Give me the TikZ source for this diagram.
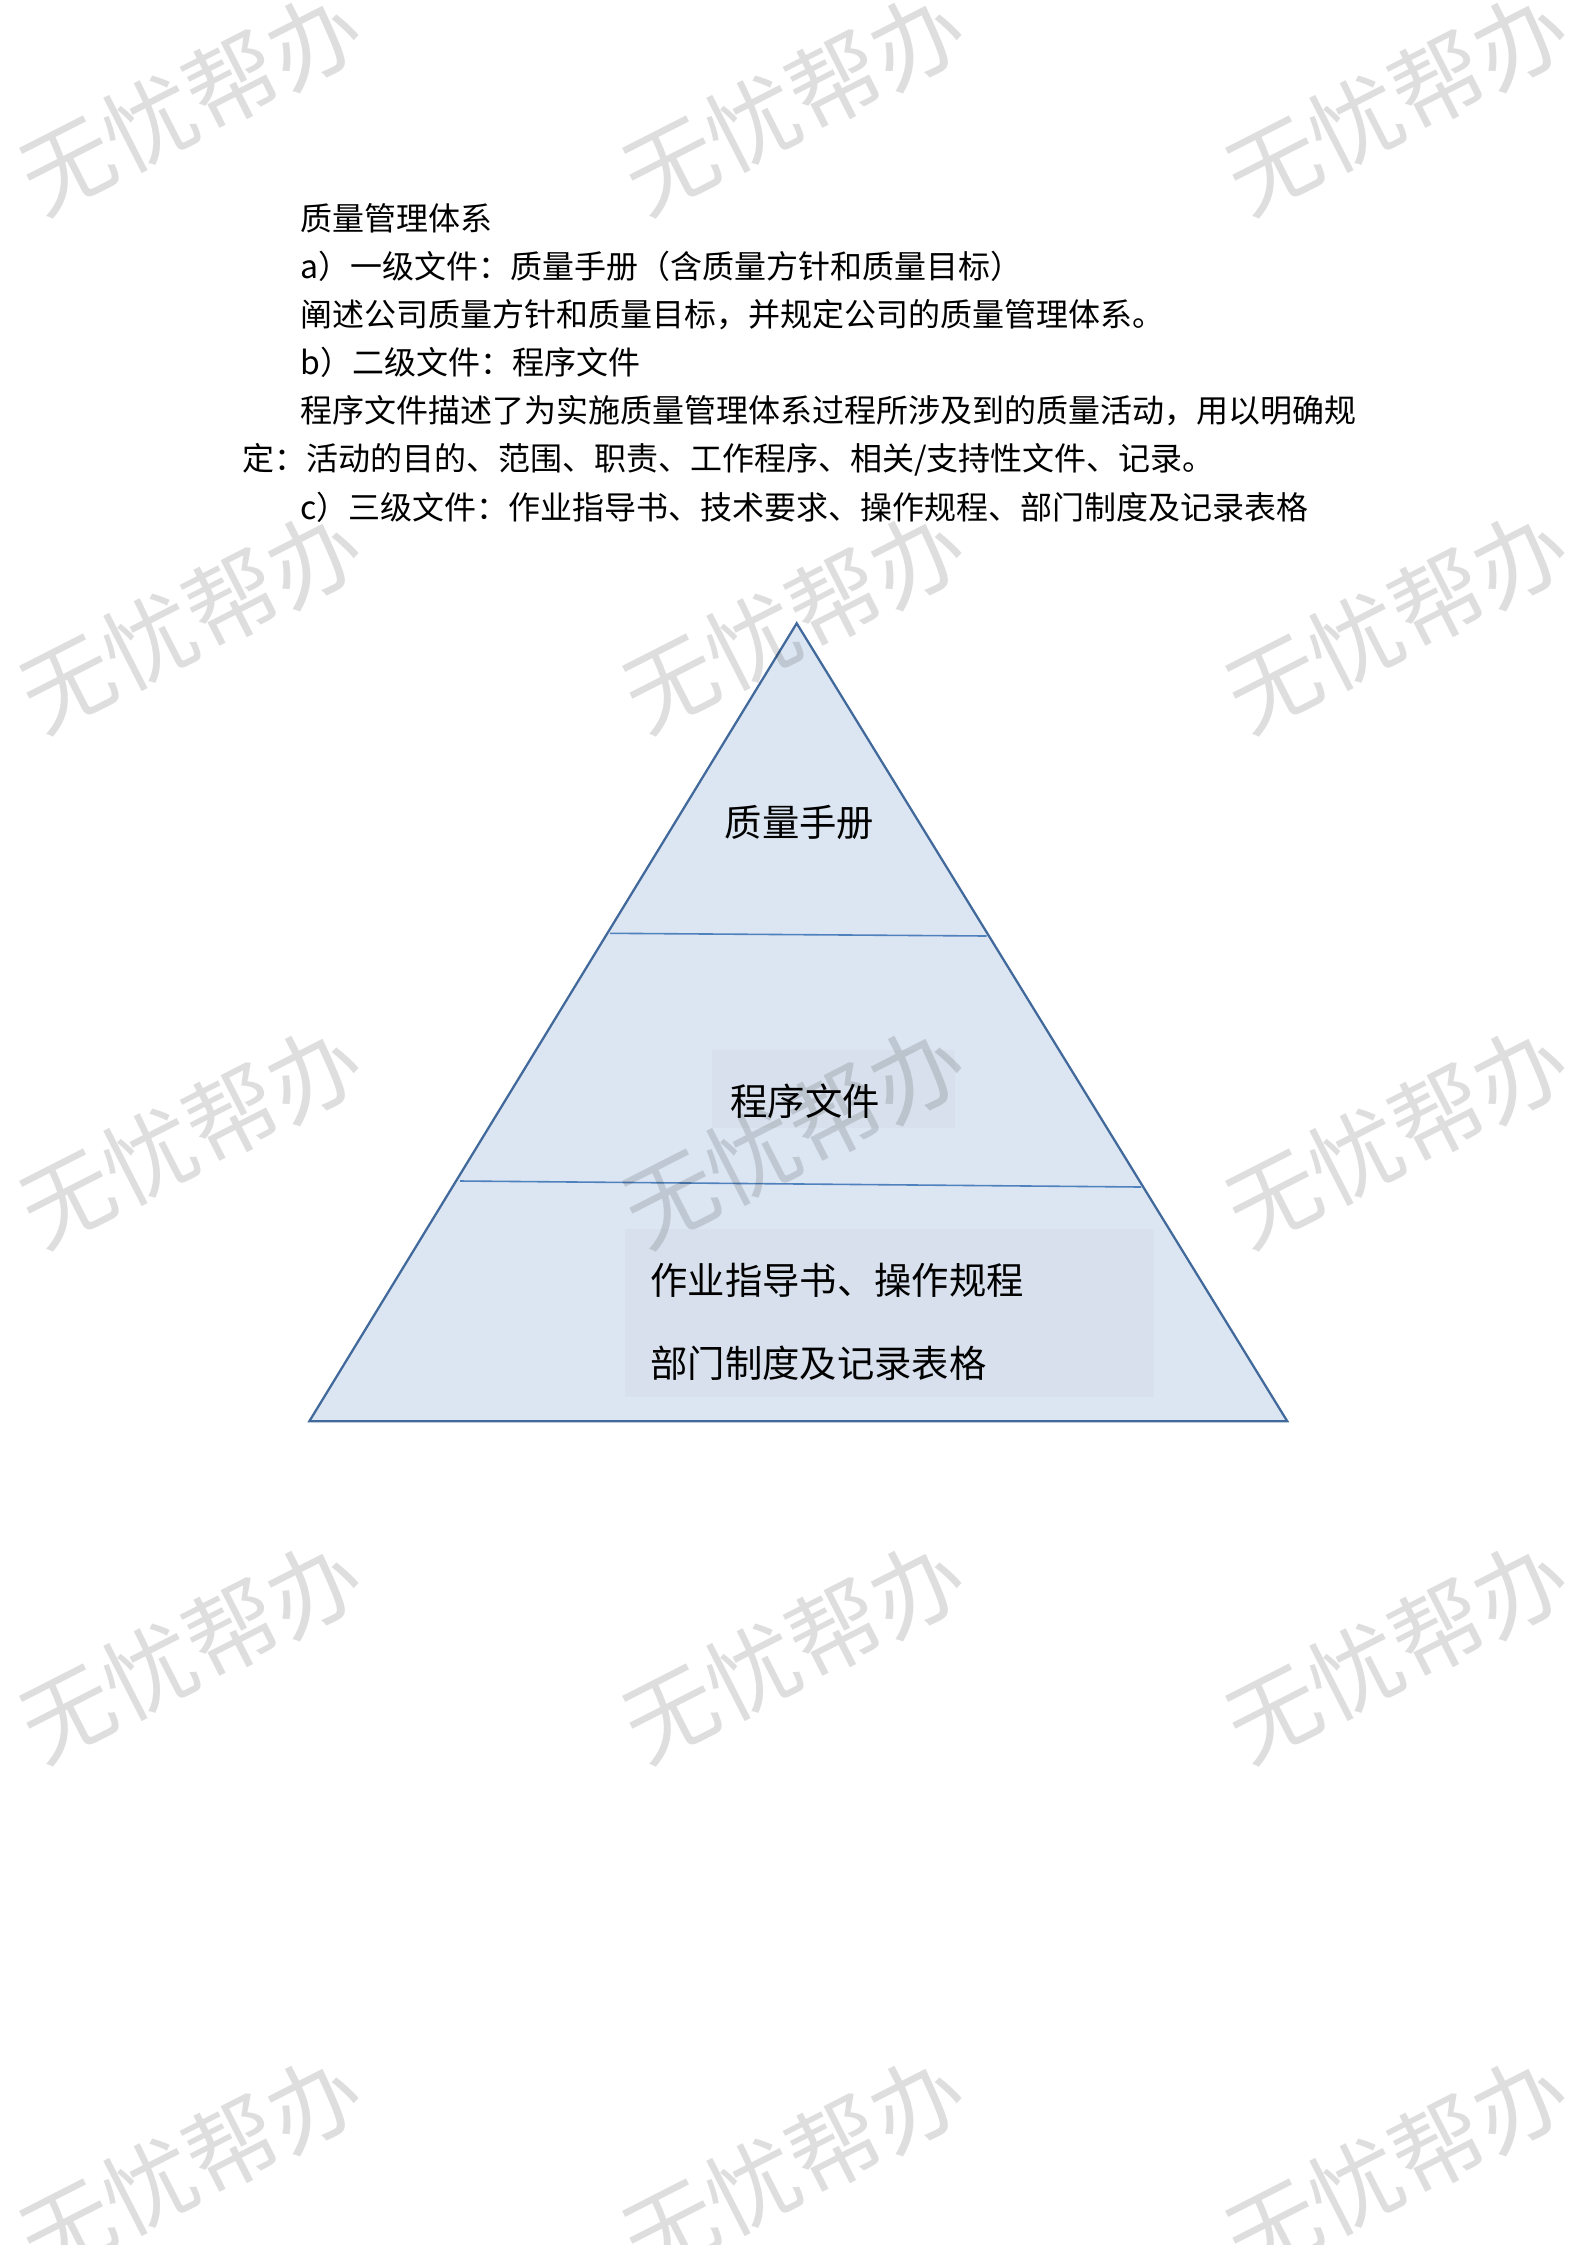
\documentclass[tikz,border=0pt]{standalone}
\usepackage{fontspec}
\setmainfont{Noto Sans CJK SC}
\definecolor{pyrfill}{RGB}{220,230,242}
\definecolor{boxfill}{RGB}{215,224,236}
\definecolor{pyrline}{RGB}{65,105,155}
\definecolor{divline}{RGB}{79,129,189}
\tikzset{
  body/.style={anchor=base west, inner sep=0pt, font=\fontsize{12pt}{14pt}\selectfont, text=black},
  lbl/.style={inner sep=0pt, font=\fontsize{14pt}{16pt}\selectfont, text=black},
  lblw/.style={anchor=base west, inner sep=0pt, font=\fontsize{14pt}{16pt}\selectfont, text=black},
  wm/.style={inner sep=0pt, rotate=27, font=\fontsize{34.5pt}{38pt}\selectfont, text=black, text opacity=0.13},
  divider/.style={draw=divline, line width=0.6pt},
  txtbox/.style={fill=boxfill, draw=none}
}
\begin{document}
\begin{tikzpicture}[x=0.37510pt, y=-0.37510pt]
\useasboundingbox (0,0) rectangle (1587,2245);
\fill[white] (0,0) rectangle (1587,2245);

% body text
\node[body] (t0) at (300,230) {质量管理体系};
\node[body] (t1) at (300,278) {a）一级文件：质量手册（含质量方针和质量目标）};
\node[body] (t2) at (300,326) {阐述公司质量方针和质量目标，并规定公司的质量管理体系。};
\node[body] (t3) at (300,374) {b）二级文件：程序文件};
\node[body] (t4) at (300,422) {程序文件描述了为实施质量管理体系过程所涉及到的质量活动，用以明确规};
\node[body] (t5) at (242,470) {定：活动的目的、范围、职责、工作程序、相关/支持性文件、记录。};
\node[body] (t6) at (300,519) {c）三级文件：作业指导书、技术要求、操作规程、部门制度及记录表格};

% pyramid
\coordinate (apex) at (796.7,623.3);
\coordinate (bl) at (309.3,1421.3);
\coordinate (br) at (1287.3,1421.3);
\fill[pyrfill] (apex) -- (bl) -- (br) -- cycle;
\fill[txtbox] (712,1050) rectangle (955,1128);
\fill[txtbox] (625,1229) rectangle (1154,1397);
\coordinate (d1l) at (610,933.3);
\coordinate (d1r) at (986.7,936);
\coordinate (d2l) at (460,1181);
\coordinate (d2r) at (1141,1187);
\draw[divider] (d1l) -- (d1r);
\draw[divider] (d2l) -- (d2r);
\draw[draw=pyrline, line width=0.85pt, line join=miter] (apex) -- (bl) -- (br) -- cycle;

\node[lbl] (l1) at (799.5,822) {质量手册};
\node[lbl] (l2) at (805,1101) {程序文件};
\node[lblw] (l3a) at (650,1294) {作业指导书、操作规程};
\node[lblw] (l3b) at (650,1377) {部门制度及记录表格};

% watermarks
\foreach \r/\yy in {1/102,2/620,3/1135,4/1650,5/2165}{
  \foreach \c/\xx in {1/191,2/794,3/1397}{
    \node[wm] (wm\r\c) at (\xx,\yy) {无忧帮办};
  }
}
\end{tikzpicture}
\end{document}
